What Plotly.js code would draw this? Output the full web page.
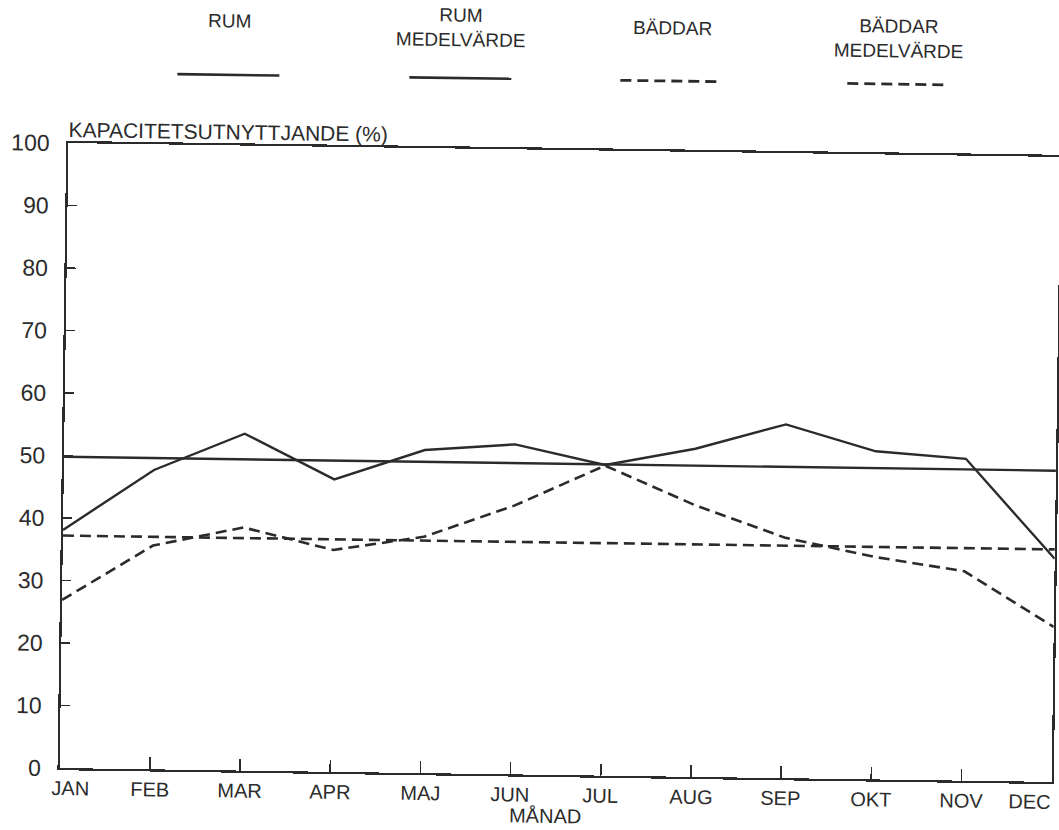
<!DOCTYPE html>
<html>
<head>
<meta charset="utf-8">
<script src="https://cdn.plot.ly/plotly-3.0.1.min.js"></script>
<style>
  html, body { margin: 0; padding: 0; background: #fff; overflow: hidden; }
  #chart { width: 1059px; height: 830px; transform: rotate(0.8deg); transform-origin: 560px 462px; }
</style>
</head>
<body>
<div id="chart"></div>
<script>
// ---- data ----
const months = ['JAN', 'FEB', 'MAR', 'APR', 'MAJ', 'JUN', 'JUL', 'AUG', 'SEP', 'OKT', 'NOV', 'DEC'];
const rum = [38.1, 47.9, 53.9, 46.8, 51.7, 52.8, 49.7, 52.5, 56.6, 52.5, 51.5, 35.7];
const rumMedel = [49.8, 49.8, 49.8, 49.8, 49.8, 49.8, 49.8, 49.8, 49.8, 49.8, 49.8, 49.8];
const baddar = [26.9, 35.8, 38.9, 35.5, 37.8, 43.0, 49.6, 43.5, 38.5, 35.6, 33.5, 24.8];
const baddarMedel = [37.2, 37.2, 37.2, 37.2, 37.2, 37.2, 37.2, 37.2, 37.2, 37.2, 37.2, 37.2];
const yTicks = [0, 10, 20, 30, 40, 50, 60, 70, 80, 90, 100];
const seriesLabels = ['RUM', 'RUM<br>MEDELVÄRDE', 'BÄDDAR', 'BÄDDAR<br>MEDELVÄRDE'];
const yTitle = 'KAPACITETSUTNYTTJANDE (%)';
const xTitle = 'MÅNAD';

// ---- styling ----
const INK = '#2b2b2b';
const FONT = '"Liberation Sans", Arial, sans-serif';
const DASH = '11px,6px';

const W = 1059, H = 830;
const M = { l: 64, r: 3, t: 150, b: 55 };
const PW = W - M.l - M.r, PH = H - M.t - M.b;
const px2x = p => (p - M.l) / PW;
const py2y = p => (H - M.b - p) / PH;

const xIdx = months.map((m, i) => i);

const traces = [
  { x: xIdx, y: rum, mode: 'lines', line: { color: INK, width: 2.4 }, name: 'RUM' },
  { x: xIdx, y: rumMedel, mode: 'lines', line: { color: INK, width: 2.4 }, name: 'RUM MEDELVÄRDE' },
  { x: xIdx, y: baddar, mode: 'lines', line: { color: INK, width: 2.6, dash: DASH }, name: 'BÄDDAR' },
  { x: xIdx, y: baddarMedel, mode: 'lines', line: { color: INK, width: 2.6, dash: DASH }, name: 'BÄDDAR MEDELVÄRDE' }
];

// legend drawn above the plot: label over a line sample
const legendCenters = [223, 455, 666, 893];
const legendLabelY = [25.7, 29.5, 26.4, 34.5];
const legendLineY = 79.5;
const legendHalf = 51;

const annotations = [];
const shapes = [];
seriesLabels.forEach((t, i) => {
  annotations.push({
    xref: 'paper', yref: 'paper', x: px2x(legendCenters[i]), y: py2y(legendLabelY[i]),
    text: t, showarrow: false, xanchor: 'center', yanchor: 'middle', align: 'center',
    font: { family: FONT, size: 19, color: INK }
  });
  shapes.push({
    type: 'line', xref: 'paper', yref: 'paper',
    x0: px2x(legendCenters[i] - legendHalf), x1: px2x(legendCenters[i] + legendHalf),
    y0: py2y(legendLineY), y1: py2y(legendLineY),
    line: { color: INK, width: i < 2 ? 2.6 : 2.8, dash: i < 2 ? 'solid' : DASH }
  });
});

// month labels (end labels nudged inward as in the original)
months.forEach((m, i) => {
  let shift = 0;
  if (i === 0) shift = 11;
  if (i === months.length - 1) shift = -22;
  annotations.push({
    xref: 'x', yref: 'paper', x: i, y: 0, yshift: -20, xshift: shift,
    text: m, showarrow: false, xanchor: 'center', yanchor: 'middle',
    font: { family: FONT, size: 20, color: INK }
  });
});

annotations.push({
  xref: 'paper', yref: 'paper', x: px2x(550), y: 0, yshift: -41,
  text: xTitle, showarrow: false, xanchor: 'center', yanchor: 'middle',
  font: { family: FONT, size: 20, color: INK }
});
annotations.push({
  xref: 'paper', yref: 'paper', x: 0, y: 1, yshift: 14, xshift: -2,
  text: yTitle, showarrow: false, xanchor: 'left', yanchor: 'middle',
  font: { family: FONT, size: 21, color: INK }
});

const layout = {
  width: W, height: H,
  margin: M,
  paper_bgcolor: '#ffffff', plot_bgcolor: '#ffffff',
  showlegend: false,
  xaxis: {
    range: [0, 11], tickvals: xIdx, showticklabels: false,
    ticks: 'inside', ticklen: 12, tickwidth: 1.6, tickcolor: INK,
    showline: true, linecolor: INK, linewidth: 2.2, mirror: true,
    showgrid: false, zeroline: false, fixedrange: true
  },
  yaxis: {
    range: [0, 100], tickvals: yTicks, ticktext: yTicks.map(String),
    ticks: 'inside', ticklen: 9, tickwidth: 1.4, tickcolor: INK,
    ticklabelstandoff: 12,
    tickfont: { family: FONT, size: 23, color: INK },
    showline: true, linecolor: INK, linewidth: 2.2, mirror: true,
    showgrid: false, zeroline: false, fixedrange: true
  },
  annotations: annotations,
  shapes: shapes
};

Plotly.newPlot('chart', traces, layout, { displayModeBar: false, staticPlot: true });
</script>
</body>
</html>
